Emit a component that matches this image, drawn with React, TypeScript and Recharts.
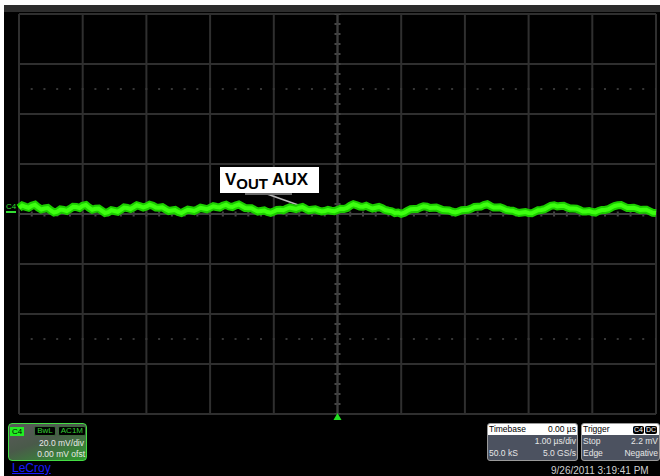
import { LineChart, Line, XAxis, YAxis, CartesianGrid, ReferenceLine, ReferenceDot } from 'recharts';

// time axis: 10 divisions of 1 us, volts: 8 divisions of 20 mV
const timeTicks = [-5, -4, -3, -2, -1, 0, 1, 2, 3, 4, 5];
const voltTicks = [-80, -60, -40, -20, 0, 20, 40, 60, 80];
const SAMPLE_US = 0.05;

// VOUT AUX ripple + noise, mV, one sample every 0.05 us starting at -5 us
const voutMv = [
  2.4, 3.4, 2.9, 2.5, 3.3, 3.7, 2.6, 1.8, 2.2, 2.4, 1.4, 0.6, 0.9, 1.8, 1.6, 1.2, 2.0, 2.9, 2.8, 2.4,
  3.3, 3.6, 2.5, 1.7, 2.1, 2.2, 1.3, 0.4, 0.7, 1.5, 1.2, 0.9, 1.7, 2.6, 2.4, 2.0, 2.7, 3.5, 3.1, 2.6,
  3.0, 3.7, 3.3, 2.6, 2.5, 2.7, 1.9, 1.2, 1.4, 1.6, 0.8, 0.4, 1.1, 1.7, 1.5, 1.2, 1.8, 2.5, 2.2, 1.9,
  2.5, 3.1, 2.8, 2.6, 3.3, 3.7, 3.0, 2.8, 3.4, 3.8, 3.1, 2.4, 2.3, 2.3, 1.6, 1.0, 1.2, 1.4, 0.8, 0.5,
  1.0, 1.6, 1.7, 1.5, 2.1, 2.6, 2.3, 2.0, 2.5, 2.8, 2.1, 1.5, 1.7, 1.9, 1.4, 1.0, 1.2, 1.6, 1.3, 1.1,
  1.6, 2.1, 2.0, 2.4, 3.3, 3.9, 3.5, 3.0, 2.9, 3.3, 2.7, 2.2, 2.5, 2.8, 2.3, 1.6, 1.3, 1.1, 0.4, 0.6,
  0.1, 0.5, 1.3, 1.9, 2.0, 2.0, 2.6, 3.1, 2.9, 2.4, 2.5, 2.6, 2.1, 1.6, 1.5, 1.4, 0.9, 0.6, 1.0, 1.5,
  1.6, 1.7, 2.2, 2.8, 2.9, 3.0, 3.6, 3.9, 3.2, 2.6, 2.6, 2.7, 2.2, 1.6, 1.4, 1.3, 0.8, 0.4, 0.6, 0.8,
  0.4, 0.3, 0.9, 1.5, 1.6, 1.9, 2.6, 3.3, 3.5, 3.0, 3.2, 3.3, 2.7, 2.2, 2.2, 2.1, 1.6, 1.0, 1.0, 1.2,
  0.8, 0.6, 1.2, 1.6, 1.6, 1.9, 2.6, 3.2, 3.5, 3.6, 3.0, 2.4, 2.4, 2.5, 2.1, 1.6, 1.7, 1.7, 1.1, 0.5,
  0.4,
];

const data = voutMv.map((v, i) => ({ t: Number((-5 + i * SAMPLE_US).toFixed(2)), v }));

const font = '"Liberation Sans", Arial, sans-serif';

const tag = (label: string) => (
  <span
    style={{
      display: 'inline-block',
      fontSize: 8,
      lineHeight: '8px',
      padding: '0 2px',
      border: '1px solid #3a6a3a',
      borderRadius: 2,
      background: '#000',
      color: '#33cc33',
      marginLeft: 2,
    }}
  >
    {label}
  </span>
);

const Triangle = (p: any) => (
  <path d={`M${p.cx - 4},${p.cy + 6} L${p.cx + 4},${p.cy + 6} L${p.cx},${p.cy - 1} Z`} fill="#22dd22" />
);

const boxStyle: any = {
  position: 'absolute',
  top: 423,
  height: 38,
  boxSizing: 'border-box',
  border: '1px solid #9a9a9a',
  borderRadius: 3,
  background: '#4c5260',
  color: '#e6e6e6',
  fontSize: 8.5,
  overflow: 'hidden',
  whiteSpace: 'nowrap',
};

const row: any = { display: 'flex', justifyContent: 'space-between', lineHeight: '12px', padding: '0 1px' };

export default function App() {
  return (
    <div style={{ position: 'absolute', left: 0, top: 0, width: 660, height: 476, background: '#fff', fontFamily: font }}>
      <div style={{ position: 'absolute', left: 4, top: 5, width: 656, height: 471, background: '#000' }} />
      <div style={{ position: 'absolute', left: 4, top: 5, width: 656, height: 7, background: '#2c2c2c' }} />

      <div style={{ position: 'absolute', left: 0, top: 0 }}>
        <LineChart width={660} height={476} data={data} margin={{ top: 14, right: 4, bottom: 62, left: 19 }}>
          <XAxis dataKey="t" type="number" domain={[-5, 5]} ticks={timeTicks} hide />
          <YAxis type="number" domain={[-80, 80]} ticks={voltTicks} hide />
          <CartesianGrid stroke="#2f2f2f" strokeWidth={2} />
          <ReferenceLine y={50} stroke="#363636" strokeWidth={2} strokeDasharray="2 10.74" strokeDashoffset={-11.7} />
          <ReferenceLine y={-50} stroke="#363636" strokeWidth={2} strokeDasharray="2 10.74" strokeDashoffset={-11.7} />
          <ReferenceLine x={0} stroke="#454545" strokeWidth={6} strokeDasharray="2 8" strokeDashoffset={1} />
          <ReferenceLine y={0} stroke="#454545" strokeWidth={5} strokeDasharray="2 10.74" strokeDashoffset={1} />
          <ReferenceLine x={0} stroke="#3d3d3d" strokeWidth={2} />
          <ReferenceLine y={0} stroke="#3d3d3d" strokeWidth={2} />
          <ReferenceLine
            segment={[{ x: -1.15, y: 8.4 }, { x: -0.55, y: 3.0 }]}
            stroke="#b8b8b8"
            strokeWidth={1.5}
          />
          <Line dataKey="v" type="linear" stroke="#1ccc00" strokeWidth={8} dot={false} isAnimationActive={false} />
          <Line dataKey="v" type="linear" stroke="#3dff10" strokeWidth={4} dot={false} isAnimationActive={false} />
          <ReferenceDot x={0} y={-80} r={4} shape={Triangle} ifOverflow="visible" />
        </LineChart>
      </div>

      {/* channel marker */}
      <div style={{ position: 'absolute', left: 6, top: 202, fontSize: 8, color: '#33dd33', borderBottom: '2px solid #33dd33', lineHeight: '9px' }}>C4</div>

      {/* annotation */}
      <div style={{ position: 'absolute', left: 245, top: 192, width: 47, height: 3, background: '#6a6a6a' }} />
      <div
        style={{
          position: 'absolute',
          left: 220,
          top: 167,
          width: 99,
          height: 26,
          background: '#fff',
          color: '#000',
          fontWeight: 'bold',
          fontSize: 17,
          lineHeight: '26px',
          paddingLeft: 5,
          boxSizing: 'border-box',
          whiteSpace: 'nowrap',
        }}
      >
        V<span style={{ fontSize: 15, position: 'relative', top: 4 }}>OUT</span> AUX
      </div>

      {/* channel descriptor */}
      <div
        style={{
          position: 'absolute',
          left: 8,
          top: 423,
          width: 79,
          height: 38,
          boxSizing: 'border-box',
          border: '1px solid #44dd44',
          borderRadius: 4,
          background: 'linear-gradient(160deg, #5a5a5a 0%, #4a5a4a 45%, #2f9a2f 100%)',
          color: '#e8e8e8',
          fontSize: 8.5,
          overflow: 'hidden',
          whiteSpace: 'nowrap',
        }}
      >
        <div style={{ display: 'flex', alignItems: 'center', height: 12, paddingTop: 1 }}>
          <span style={{ background: '#22ee22', color: '#000', fontSize: 8, lineHeight: '9px', padding: '0 2px', marginLeft: 1 }}>C4</span>
          <span style={{ flex: 1 }} />
          {tag('BwL')}
          {tag('AC1M')}
        </div>
        <div style={{ textAlign: 'right', lineHeight: '12px', paddingRight: 2 }}>20.0 mV/div</div>
        <div style={{ textAlign: 'right', lineHeight: '11px', paddingRight: 1 }}>0.00 mV ofst</div>
      </div>
      <div style={{ position: 'absolute', left: 12, top: 461, fontSize: 12, color: '#1a1aff', textDecoration: 'underline' }}>LeCroy</div>

      {/* timebase */}
      <div style={{ ...boxStyle, left: 487, width: 91 }}>
        <div style={{ ...row, background: '#fff', color: '#000', lineHeight: '11px' }}>
          <span>Timebase</span>
          <span>0.00 µs</span>
        </div>
        <div style={{ textAlign: 'right', lineHeight: '12px', paddingRight: 1 }}>1.00 µs/div</div>
        <div style={row}>
          <span>50.0 kS</span>
          <span>5.0 GS/s</span>
        </div>
      </div>

      {/* trigger */}
      <div style={{ ...boxStyle, left: 581, width: 79 }}>
        <div style={{ display: 'flex', alignItems: 'center', background: '#fff', color: '#000', lineHeight: '11px', padding: '0 1px' }}>
          <span>Trigger</span>
          <span style={{ flex: 1 }} />
          <span style={{ background: '#000', color: '#fff', fontSize: 7, lineHeight: '8px', padding: '0 1px', borderRadius: 2 }}>C4</span>
          <span style={{ background: '#000', color: '#fff', fontSize: 7, lineHeight: '8px', padding: '0 1px', borderRadius: 2, marginLeft: 1, marginRight: 1 }}>DC</span>
        </div>
        <div style={row}>
          <span>Stop</span>
          <span>2.2 mV</span>
        </div>
        <div style={row}>
          <span>Edge</span>
          <span>Negative</span>
        </div>
      </div>

      <div style={{ position: 'absolute', left: 551, top: 465, fontSize: 10, color: '#d0d0d0', whiteSpace: 'nowrap' }}>9/26/2011 3:19:41 PM</div>
    </div>
  );
}
